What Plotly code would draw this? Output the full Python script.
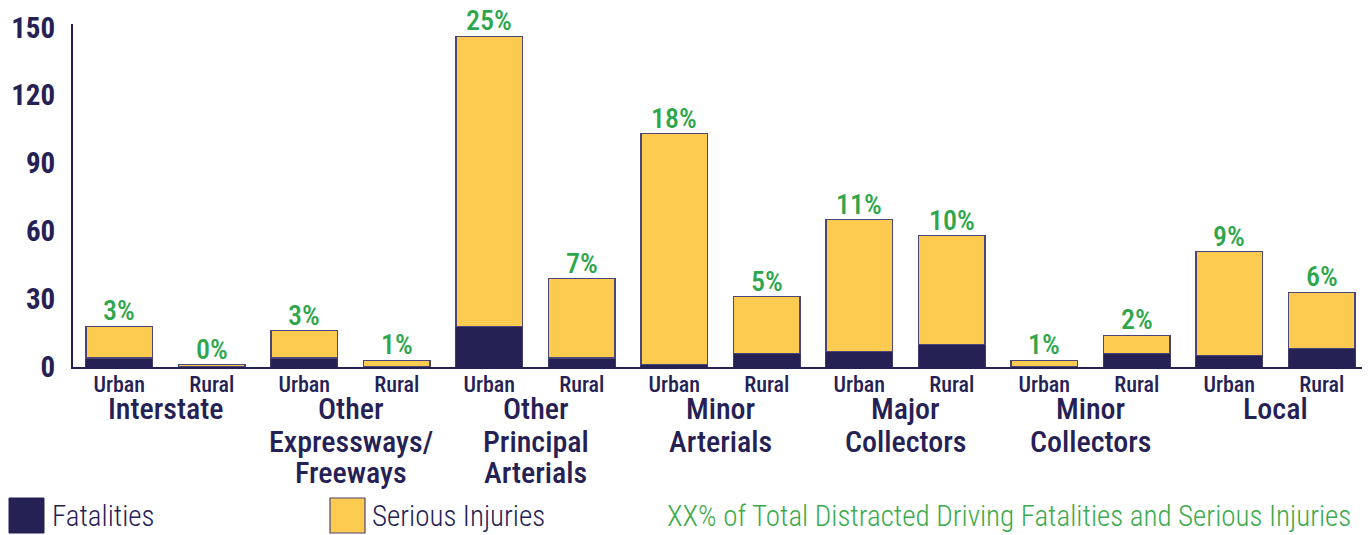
import plotly.graph_objects as go

# ---- data ----
groups = ["Interstate", "Other<br>Expressways/<br>Freeways", "Other<br>Principal<br>Arterials",
          "Minor<br>Arterials", "Major<br>Collectors", "Minor<br>Collectors", "Local"]
areas = ["Urban", "Rural"]
fatalities = [4, 0.3, 4, 0, 18, 4, 1, 6, 7, 10, 0, 6, 5, 8]
serious_injuries = [14, 0.7, 12, 3, 128, 35, 102, 25, 58, 48, 3, 8, 46, 25]
pct_labels = ["3%", "0%", "3%", "1%", "25%", "7%", "18%", "5%", "11%", "10%", "1%", "2%", "9%", "6%"]
y_ticks = [0, 30, 60, 90, 120, 150]

NAVY = "#252155"
YELLOW = "#FECB51"
GREEN = "#2EA64B"
FONT = "Roboto Condensed, Open Sans Condensed, sans-serif"

# page is 1370x535, but the html body has an 8px margin
OFF = 8
W, H = 1370 - OFF, 535 - OFF
L, R, T, B = 73 - OFF, 2, 24 - OFF, 168
PW, PH = W - L - R, H - T - B
X0, Y0 = 73, 367  # page pixel of plot-area left / bottom

def px(x):
    return (x - X0) / PW

def py(y):
    return (Y0 - y) / PH

n = len(fatalities)
xs = list(range(n))
totals = [f + s for f, s in zip(fatalities, serious_injuries)]
ticktext = [areas[i % 2] for i in xs]

fig = go.Figure()
fig.add_bar(x=xs, y=fatalities, name="Fatalities", marker=dict(color=NAVY, line=dict(color="#3d3a6b", width=1)))
fig.add_bar(x=xs, y=serious_injuries, name="Serious Injuries", marker=dict(color=YELLOW, line=dict(color="#4a4678", width=1.2)))

ann = []
for i in xs:
    ann.append(dict(x=i, y=totals[i], text=pct_labels[i], showarrow=False, yanchor="bottom",
                    yshift=-3, font=dict(family=FONT, size=28, color=GREEN, weight=500)))

line_y = [409, 441, 472]
for g, label in enumerate(groups):
    for k, line in enumerate(label.split("<br>")):
        ann.append(dict(x=2 * g + 0.5, xref="x", y=py(line_y[k]), yref="paper", text=line, showarrow=False,
                        yanchor="middle", xanchor="center",
                        font=dict(family=FONT, size=30, color=NAVY, weight=500)))

# legend
shapes = [
    dict(type="rect", xref="paper", yref="paper", x0=px(9), x1=px(44), y0=py(533), y1=py(498),
         fillcolor=NAVY, line=dict(color=NAVY, width=1)),
    dict(type="rect", xref="paper", yref="paper", x0=px(330), x1=px(365), y0=py(533), y1=py(498),
         fillcolor=YELLOW, line=dict(color="#4a4678", width=1.2)),
]
leg_font = dict(family=FONT, size=29, color=NAVY, weight=300)
ann.append(dict(x=px(50), y=py(516), xref="paper", yref="paper", text="Fatalities", showarrow=False,
                xanchor="left", yanchor="middle", font=leg_font))
ann.append(dict(x=px(370), y=py(516), xref="paper", yref="paper", text="Serious Injuries", showarrow=False,
                xanchor="left", yanchor="middle", font=leg_font))
ann.append(dict(x=px(1353), y=py(516), xref="paper", yref="paper",
                text="XX% of Total Distracted Driving Fatalities and Serious Injuries", showarrow=False,
                xanchor="right", yanchor="middle", font=dict(family=FONT, size=29, color="#3BAA4D", weight=300)))

fig.update_layout(
    width=W, height=H, barmode="stack", bargap=0.28, showlegend=False,
    margin=dict(l=L, r=R, t=T, b=B, pad=0),
    plot_bgcolor="white", paper_bgcolor="white",
    annotations=ann, shapes=shapes,
    xaxis=dict(range=[-0.5, n - 0.5], tickvals=xs, ticktext=ticktext, showgrid=False, zeroline=False,
               showline=True, linecolor=NAVY, linewidth=2, ticks="", ticklabelstandoff=-3, automargin=False,
               tickfont=dict(family=FONT, size=22, color=NAVY, weight=500), fixedrange=True),
    yaxis=dict(range=[0, 151.5], tickvals=y_ticks, showgrid=False, zeroline=False,
               showline=True, linecolor=NAVY, linewidth=2, ticks="", ticklabelstandoff=10, automargin=False,
               tickfont=dict(family=FONT, size=29, color=NAVY, weight="bold"), fixedrange=True),
)

fig.write_html("out.html")
